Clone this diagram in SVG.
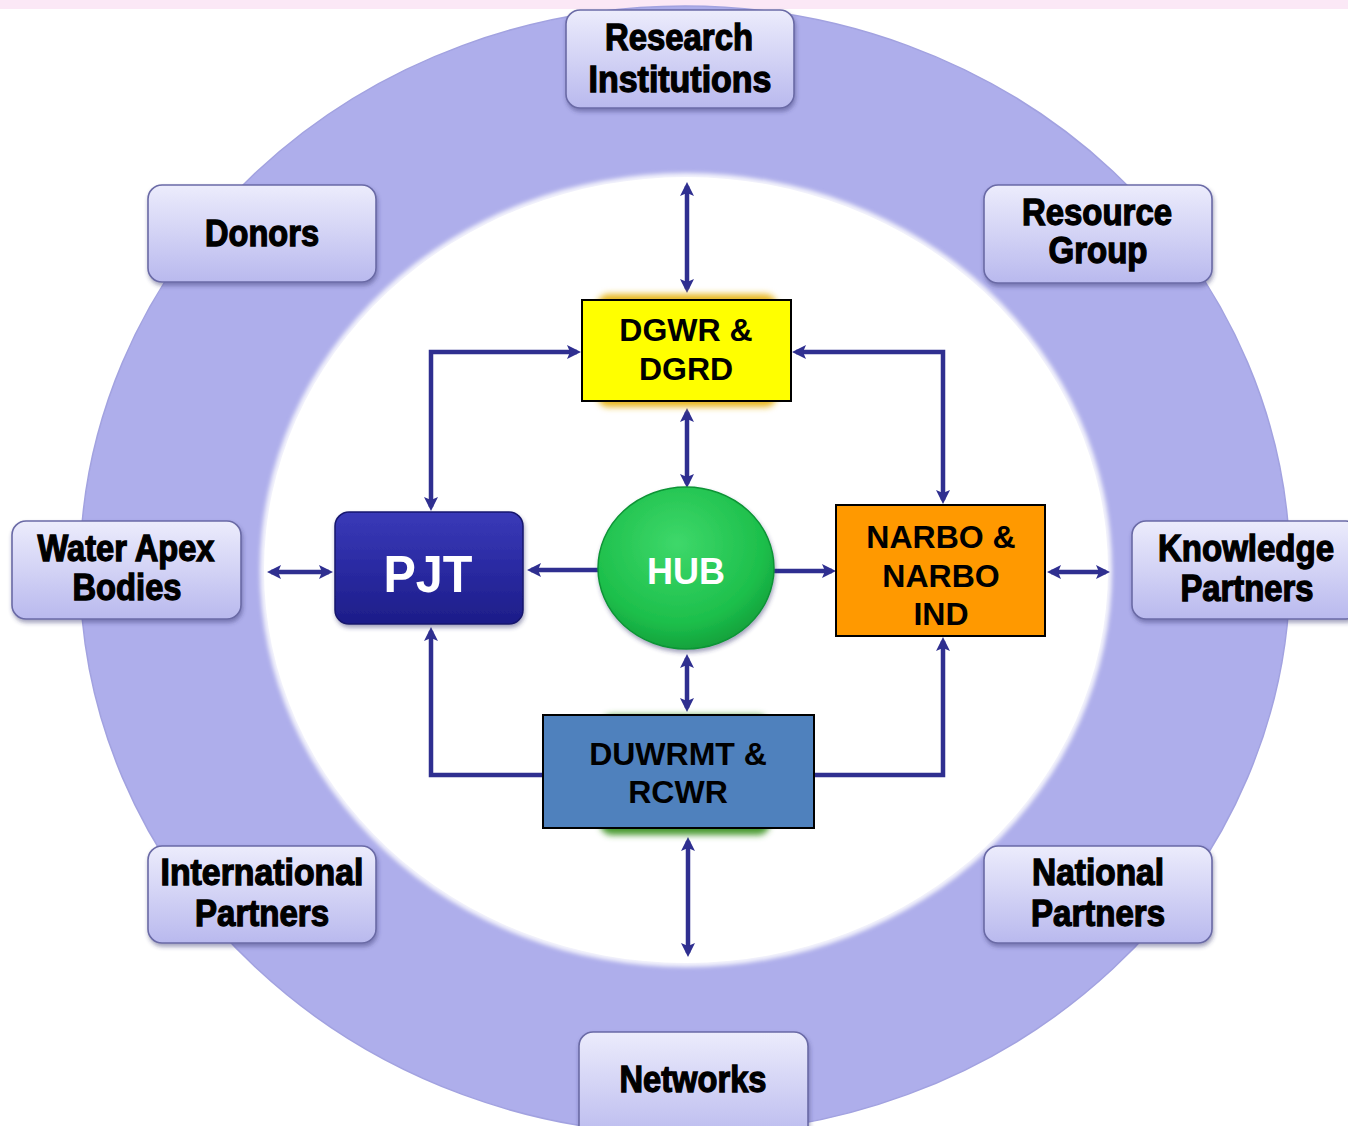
<svg xmlns="http://www.w3.org/2000/svg" width="1348" height="1126" viewBox="0 0 1348 1126">
<style>
.ob{fill:url(#boxg);stroke:#6a6aa6;stroke-width:1.6;filter:url(#sh)}
.ot{font-family:"Liberation Sans",Arial,sans-serif;font-weight:bold;font-size:36px;fill:#000;stroke:#000;stroke-width:1.3;text-anchor:middle}
.it{font-family:"Liberation Sans",Arial,sans-serif;font-weight:bold;font-size:32px;fill:#000;text-anchor:middle}
.wt{font-family:"Liberation Sans",Arial,sans-serif;font-weight:bold;fill:#fff;text-anchor:middle}
.cn{fill:none;stroke:#2f2f90;stroke-width:4.5;stroke-linejoin:miter}
.da{marker-start:url(#ah);marker-end:url(#ah)}
.ea{marker-end:url(#ah)}
.sa{marker-start:url(#ah)}
</style>
<defs>
<linearGradient id="boxg" x1="0" y1="0" x2="0" y2="1">
<stop offset="0" stop-color="#ececfc"/>
<stop offset="1" stop-color="#b9b9ee"/>
</linearGradient>
<linearGradient id="pjtg" x1="0" y1="0" x2="0" y2="1">
<stop offset="0" stop-color="#3a3ab8"/>
<stop offset="0.5" stop-color="#2a2aa2"/>
<stop offset="1" stop-color="#1d1d88"/>
</linearGradient>
<radialGradient id="hubg" cx="0.45" cy="0.35" r="0.7">
<stop offset="0" stop-color="#3ed86a"/>
<stop offset="0.7" stop-color="#1dbf4b"/>
<stop offset="1" stop-color="#0f9a38"/>
</radialGradient>
<filter id="sh" x="-10%" y="-10%" width="130%" height="140%">
<feDropShadow dx="1" dy="3" stdDeviation="2" flood-color="#303070" flood-opacity="0.45"/>
</filter>
<filter id="bl" x="-20%" y="-20%" width="140%" height="140%">
<feGaussianBlur stdDeviation="3"/>
</filter>
<filter id="glow" x="-5%" y="-5%" width="110%" height="110%">
<feGaussianBlur stdDeviation="2"/>
</filter>
<marker id="ah" viewBox="0 0 14 14" refX="10" refY="7" markerWidth="14" markerHeight="14" markerUnits="userSpaceOnUse" orient="auto-start-reverse">
<path d="M0,0 L14,7 L0,14 L3,7 z" fill="#2f2f90"/>
</marker>
</defs>
<rect x="0" y="0" width="1348" height="1126" fill="#ffffff"/>
<rect x="0" y="0" width="1348" height="9" fill="#fbe8f6"/>
<g id="ring">
<ellipse cx="685" cy="570" rx="605" ry="564" fill="#aeaeeb" stroke="#a2a2e0" stroke-width="1.5"/>
<ellipse cx="686" cy="570" rx="426" ry="397" fill="#f4f4fc" filter="url(#glow)"/>
<ellipse cx="686" cy="570" rx="422" ry="393" fill="#ffffff"/>
</g>
<g id="connectors">
<path class="cn da" d="M687,186 L687,289"/>
<path class="cn da" d="M687,412 L687,484"/>
<path class="cn da" d="M687,658 L687,708"/>
<path class="cn da" d="M688,841 L688,953"/>
<path class="cn ea" d="M598,570 L531,570"/>
<path class="cn ea" d="M774,571 L832,571"/>
<path class="cn da" d="M271,572 L329,572"/>
<path class="cn da" d="M1051,572 L1106,572"/>
<path class="cn da" d="M577,352 L431,352 L431,507"/>
<path class="cn da" d="M796,352 L943,352 L943,500"/>
<path class="cn sa" d="M431,631 L431,775 L545,775"/>
<path class="cn sa" d="M943,641 L943,775 L812,775"/>
</g>
<g id="research">
<rect class="ob" x="566" y="10" width="228" height="98" rx="14"/>
<text class="ot" x="679" y="50" textLength="148" lengthAdjust="spacingAndGlyphs">Research</text>
<text class="ot" x="680" y="92" textLength="183" lengthAdjust="spacingAndGlyphs">Institutions</text>
</g>
<g id="donors">
<rect class="ob" x="148" y="185" width="228" height="97" rx="14"/>
<text class="ot" x="262" y="246" textLength="114" lengthAdjust="spacingAndGlyphs">Donors</text>
</g>
<g id="resource">
<rect class="ob" x="984" y="185" width="228" height="98" rx="14"/>
<text class="ot" x="1097" y="225" textLength="150" lengthAdjust="spacingAndGlyphs">Resource</text>
<text class="ot" x="1098" y="263" textLength="99" lengthAdjust="spacingAndGlyphs">Group</text>
</g>
<g id="water">
<rect class="ob" x="12" y="521" width="229" height="98" rx="14"/>
<text class="ot" x="126" y="561" textLength="177" lengthAdjust="spacingAndGlyphs">Water Apex</text>
<text class="ot" x="127" y="600" textLength="109" lengthAdjust="spacingAndGlyphs">Bodies</text>
</g>
<g id="knowledge">
<rect class="ob" x="1132" y="521" width="228" height="98" rx="14"/>
<text class="ot" x="1246" y="561" textLength="176" lengthAdjust="spacingAndGlyphs">Knowledge</text>
<text class="ot" x="1247" y="601" textLength="133" lengthAdjust="spacingAndGlyphs">Partners</text>
</g>
<g id="international">
<rect class="ob" x="148" y="846" width="228" height="97" rx="14"/>
<text class="ot" x="262" y="885" textLength="203" lengthAdjust="spacingAndGlyphs">International</text>
<text class="ot" x="262" y="926" textLength="134" lengthAdjust="spacingAndGlyphs">Partners</text>
</g>
<g id="national">
<rect class="ob" x="984" y="846" width="228" height="97" rx="14"/>
<text class="ot" x="1098" y="885" textLength="132" lengthAdjust="spacingAndGlyphs">National</text>
<text class="ot" x="1098" y="926" textLength="134" lengthAdjust="spacingAndGlyphs">Partners</text>
</g>
<g id="networks">
<rect class="ob" x="579" y="1032" width="229" height="110" rx="14"/>
<text class="ot" x="693" y="1092" textLength="147" lengthAdjust="spacingAndGlyphs">Networks</text>
</g>
<g id="dgwr">
<rect x="597" y="294" width="180" height="113" rx="12" fill="#e8b820" filter="url(#bl)"/>
<rect x="582" y="300" width="209" height="101" fill="#ffff00" stroke="#000" stroke-width="2"/>
<text class="it" x="686" y="341">DGWR &amp;</text>
<text class="it" x="686" y="380">DGRD</text>
</g>
<g id="pjt">
<rect x="335" y="512" width="188" height="112" rx="14" fill="url(#pjtg)" stroke="#17176e" stroke-width="1.5" filter="url(#sh)"/>
<text class="wt" x="428" y="592" font-size="52" textLength="89" lengthAdjust="spacingAndGlyphs">PJT</text>
</g>
<g id="hub">
<ellipse cx="686" cy="568" rx="88" ry="81" fill="url(#hubg)" stroke="#0e9436" stroke-width="1.5" filter="url(#sh)"/>
<text class="wt" x="686" y="584" font-size="37" textLength="78" lengthAdjust="spacingAndGlyphs">HUB</text>
</g>
<g id="narbo">
<rect x="836" y="505" width="209" height="131" fill="#ff9900" stroke="#000" stroke-width="2"/>
<text class="it" x="941" y="548">NARBO &amp;</text>
<text class="it" x="941" y="587">NARBO</text>
<text class="it" x="941" y="625">IND</text>
</g>
<g id="duwrmt">
<rect x="600" y="715" width="170" height="120" rx="12" fill="#4a9a30" filter="url(#bl)"/>
<rect x="543" y="715" width="271" height="113" fill="#4f81bd" stroke="#000" stroke-width="2"/>
<text class="it" x="678" y="765">DUWRMT &amp;</text>
<text class="it" x="678" y="803">RCWR</text>
</g>
</svg>
